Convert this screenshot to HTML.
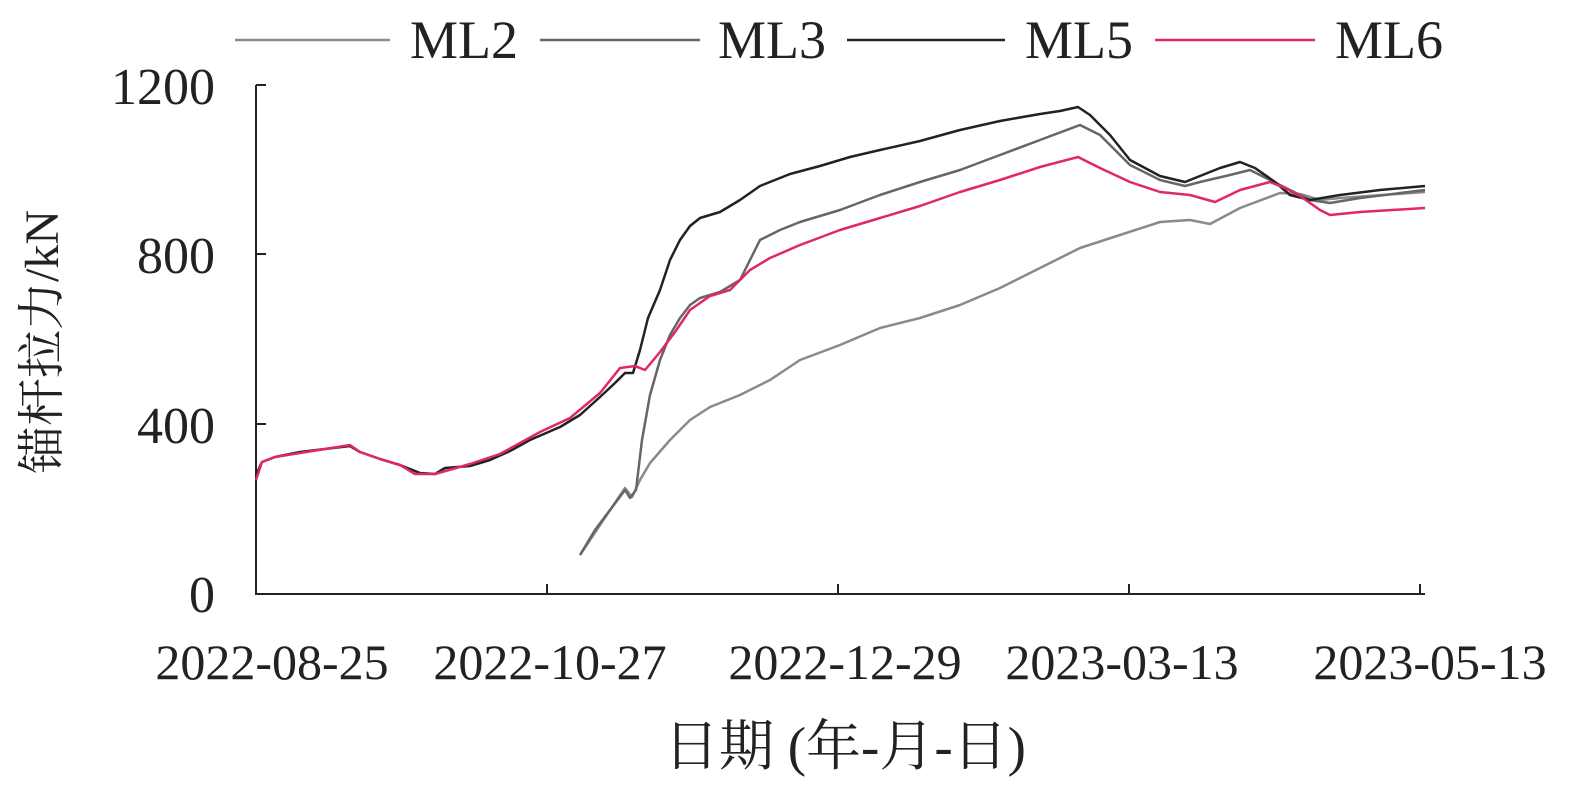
<!DOCTYPE html>
<html><head><meta charset="utf-8"><style>body{margin:0;background:#fff}svg{display:block}text{font-family:"Liberation Serif","Noto Serif CJK SC",serif;fill:#222}</style></head>
<body>
<svg width="1575" height="797" viewBox="0 0 1575 797">
<rect width="1575" height="797" fill="#fff"/>
<g stroke-width="2.5" fill="none">
<line x1="235" y1="40" x2="390" y2="40" stroke="#8a8a8a"/>
<line x1="540" y1="40" x2="700" y2="40" stroke="#666"/>
<line x1="847" y1="40" x2="1005" y2="40" stroke="#222"/>
<line x1="1155" y1="40" x2="1315" y2="40" stroke="#e0266e"/>
</g>
<g font-size="54">
<text x="410" y="58">ML2</text><text x="718" y="58">ML3</text><text x="1025" y="58">ML5</text><text x="1335" y="58">ML6</text>
</g>
<g stroke="#222" stroke-width="2" fill="none">
<line x1="256" y1="85" x2="256" y2="595"/>
<line x1="255" y1="594" x2="1425" y2="594"/>
<line x1="256" y1="85" x2="266" y2="85"/><line x1="256" y1="254" x2="266" y2="254"/><line x1="256" y1="424" x2="266" y2="424"/>
<line x1="547" y1="594" x2="547" y2="584"/><line x1="838" y1="594" x2="838" y2="584"/><line x1="1129" y1="594" x2="1129" y2="584"/><line x1="1420" y1="594" x2="1420" y2="584"/>
</g>
<g font-size="52" text-anchor="end">
<text x="215" y="104">1200</text><text x="215" y="273">800</text><text x="215" y="443">400</text><text x="215" y="612">0</text>
</g>
<g font-size="50" text-anchor="middle">
<text x="272" y="679">2022-08-25</text><text x="550" y="679">2022-10-27</text><text x="845" y="679">2022-12-29</text><text x="1122" y="679">2023-03-13</text><text x="1430" y="679">2023-05-13</text>
</g>
<g font-size="55" text-anchor="middle">
<text x="845" y="765">日期 (年-月-日)</text>
</g>
<text font-size="48" text-anchor="middle" transform="translate(58,342) rotate(-90)">锚杆拉力/kN</text>
<g fill="none" stroke-width="2.5" stroke-linejoin="round">
<polyline stroke="#8a8a8a" points="580,555 600,525 625,488 632,497 640,480 650,463 670,440 690,420 710,407 740,395 770,380 800,360 840,345 880,328 920,318 960,305 1000,288 1040,268 1080,248 1120,235 1160,222 1190,220 1210,224 1240,208 1280,193 1300,194 1320,200 1340,198 1425,192"/>
<polyline stroke="#666" points="580,555 595,530 610,510 625,490 630,498 636,490 642,440 650,395 660,360 670,335 680,318 690,305 700,298 720,292 740,280 760,240 780,230 800,222 840,210 880,195 920,182 960,170 1000,155 1040,140 1080,125 1100,135 1130,165 1160,180 1185,186 1200,182 1230,175 1250,170 1270,180 1290,190 1310,200 1330,203 1360,198 1425,190"/>
<polyline stroke="#222" points="256,475 262,462 275,457 300,452 350,446 360,452 380,459 400,465 420,473 435,474 445,468 470,466 490,460 510,451 530,440 560,427 580,415 600,397 615,383 625,373 633,373 640,350 648,318 660,290 670,260 680,240 690,226 700,218 720,212 740,200 760,186 790,174 820,166 850,157 880,150 920,141 960,130 1000,121 1040,114 1060,111 1078,107 1090,115 1110,135 1130,160 1160,176 1185,182 1200,176 1220,168 1240,162 1255,168 1275,182 1290,195 1310,200 1340,195 1380,190 1425,186"/>
<polyline stroke="#e0266e" points="256,480 262,462 275,457 350,445 360,452 380,459 400,465 415,474 435,474 470,464 500,454 540,432 570,418 600,393 620,368 635,366 645,370 660,352 675,332 690,310 710,296 730,290 750,270 770,258 800,245 840,230 880,218 920,206 960,192 1000,180 1040,167 1078,157 1100,168 1130,182 1160,192 1190,195 1215,202 1240,190 1270,182 1285,188 1300,196 1320,210 1330,215 1360,212 1425,208"/>
</g>
</svg>
</body></html>
